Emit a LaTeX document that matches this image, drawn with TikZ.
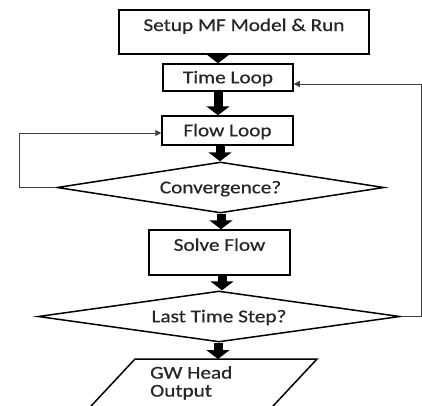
\documentclass[tikz,border=0pt]{standalone}
\usepackage{fontspec}
\setmainfont[FakeStretch=1.18,FakeBold=0.6]{Carlito}
\usetikzlibrary{shapes.geometric,arrows.meta,calc}
\begin{document}
\begin{tikzpicture}[x=1pt,y=-1pt,
  font=\fontsize{18}{18}\selectfont,
  box/.style={draw=black, line width=1.5pt, rectangle, inner sep=0pt, text=black!85},
  dia/.style={draw=black, line width=1.5pt, diamond, inner sep=0pt, text=black!85},
  cc/.style={text height=12pt, text depth=0.4pt},
  blk/.style={line width=9pt, -{Triangle[width=23pt,length=9pt]}, black},
  fb/.style={draw=black!75, line width=0.9pt, -{Triangle[width=6pt,length=6pt]}}]
\useasboundingbox (0,0) rectangle (422,405);
\clip (0,0) rectangle (422,405);

\node[box, minimum width=250pt, minimum height=44pt, text height=12pt, text depth=14pt] (setup) at (244,32) {Setup MF Model \& Run\hspace{14pt}};
\node[box, cc, minimum width=130pt, minimum height=27pt] (time) at (228,77.5) {Time Loop\hspace{10pt}};
\node[box, cc, minimum width=131pt, minimum height=29pt] (flow) at (227.5,130.5) {Flow Loop\hspace{10pt}};
\node[dia, cc, aspect=6.4, minimum width=327pt, minimum height=51pt] (conv) at (220.5,187.5) {Convergence?\hspace{15pt}};
\node[box, minimum width=141pt, minimum height=45pt, text height=12pt, text depth=15.4pt] (solve) at (219.5,252.5) {Solve Flow\hspace{21pt}};
\node[dia, cc, aspect=7.1, minimum width=362pt, minimum height=51pt] (last) at (219,316.5) {Last Time Step?\hspace{14pt}};

% output parallelogram (cut by the lower edge)
\draw[line width=1.5pt] (135,359) -- (317,359) -- (260,420) -- (78,420) -- cycle;
\coordinate (outtop) at (218,359);
\node[anchor=west, align=left, inner sep=0pt, text=black!85] (out) at (150,382.8) {GW Head\\Output};

% main flow arrows
\draw[blk] ($(setup.south)+(-26,0)$) -- ($(time.north)+(-10,0)$);
\draw[blk] ($(time.south)+(-10,0)$) -- ($(flow.north)+(-9.5,0)$);
\draw[blk] ($(flow.south)+(-7.5,0)$) -- ($(conv.north)+(-0.5,0)$);
\draw[blk] ($(conv.south)+(0.5,0)$) -- ($(solve.north)+(1.5,0)$);
\draw[blk] ($(solve.south)+(2.5,0)$) -- ($(last.north)+(3,0)$);
\draw[blk] ($(last.south)+(-1,0)$) -- (outtop);

% feedback loops
\coordinate (lbot) at (19,187.5);
\coordinate (ltop) at (19,133);
\draw[fb] (conv.west) -- (lbot) -- (ltop) -- (flow.west |- ltop);
\coordinate (rbot) at (421,316.5);
\coordinate (rtop) at (421,84);
\draw[fb] (last.east) -- (rbot) -- (rtop) -- (time.east |- rtop);
\end{tikzpicture}
\end{document}
